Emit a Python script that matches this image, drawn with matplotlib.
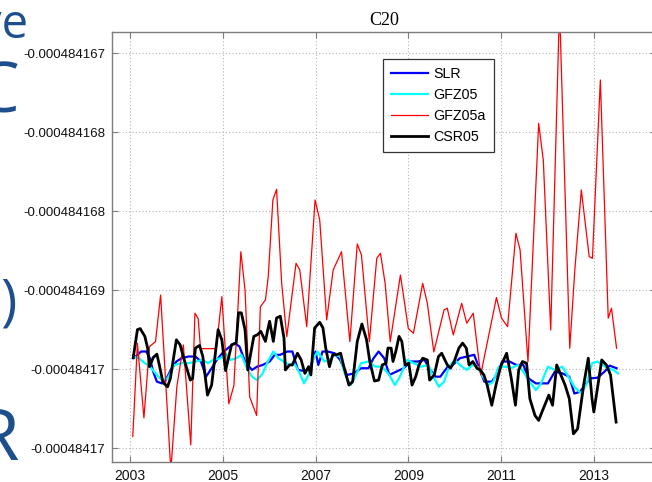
#!/usr/bin/env python3
"""
Plot the C20 coefficient time series (SLR vs. GRACE solutions).
"""

import matplotlib
matplotlib.use('Agg')  # Use non-interactive backend
import matplotlib.pyplot as plt
from matplotlib.ticker import FuncFormatter

OUTPUT_FILE = "out.png"

# Series are stored as offsets from C20_BASE, in units of C20_UNIT
C20_BASE = -4.84167e-4
C20_UNIT = 1e-10

SLR_T = [2003.07, 2003.12, 2003.24, 2003.35, 2003.43, 2003.50, 2003.58, 2003.69, 2003.77, 2003.88,
         2004.00, 2004.11, 2004.26, 2004.41, 2004.53, 2004.64, 2004.76, 2004.87, 2005.02, 2005.25,
         2005.36, 2005.48, 2005.63, 2005.74, 2005.86, 2006.01, 2006.12, 2006.24, 2006.39, 2006.50,
         2006.62, 2006.77, 2006.88, 2007.00, 2007.06, 2007.15, 2007.26, 2007.41, 2007.53, 2007.68,
         2007.83, 2007.98, 2008.14, 2008.25, 2008.36, 2008.48, 2008.59, 2008.74, 2008.90, 2009.05,
         2009.20, 2009.35, 2009.43, 2009.58, 2009.69, 2009.85, 2009.96, 2010.11, 2010.26, 2010.42,
         2010.53, 2010.64, 2010.80, 2010.95, 2011.02, 2011.18, 2011.33, 2011.48, 2011.59, 2011.75,
         2011.90, 2012.01, 2012.16, 2012.32, 2012.47, 2012.58, 2012.70, 2012.81, 2012.92, 2013.08,
         2013.23, 2013.34, 2013.49]
SLR_V = [-25.18, -25.05, -24.67, -24.67, -25.18, -26.20, -26.96, -27.09, -26.84, -26.07,
         -25.43, -25.18, -25.05, -25.05, -25.43, -26.58, -25.94, -25.31, -24.67, -24.03,
         -24.29, -25.43, -26.07, -25.82, -25.69, -25.43, -24.92, -24.92, -24.67, -24.67,
         -26.07, -26.15, -25.94, -24.67, -25.69, -24.67, -24.67, -24.80, -25.31, -26.45,
         -26.33, -25.94, -25.94, -25.18, -24.67, -25.18, -26.45, -26.20, -25.94, -25.43,
         -25.43, -25.31, -25.82, -26.58, -26.58, -25.82, -25.69, -25.18, -25.05, -24.92,
         -25.94, -26.96, -26.96, -26.20, -25.43, -25.43, -25.69, -25.69, -26.71, -27.09,
         -27.09, -27.09, -26.20, -26.33, -26.58, -27.86, -27.73, -27.22, -26.71, -26.66,
         -26.20, -25.74, -25.94]

GFZ05_T = [2003.07, 2003.20, 2003.27, 2003.43, 2003.58, 2003.69, 2003.81, 2003.96, 2004.11, 2004.26,
           2004.41, 2004.57, 2004.68, 2004.79, 2004.95, 2005.06, 2005.17, 2005.29, 2005.40, 2005.52,
           2005.63, 2005.74, 2005.86, 2005.97, 2006.09, 2006.20, 2006.31, 2006.43, 2006.54, 2006.66,
           2006.75, 2006.85, 2006.96, 2007.04, 2007.19, 2007.30, 2007.41, 2007.53, 2007.64, 2007.76,
           2007.87, 2007.98, 2008.14, 2008.29, 2008.44, 2008.59, 2008.71, 2008.82, 2008.97, 2009.12,
           2009.28, 2009.43, 2009.54, 2009.66, 2009.77, 2009.88, 2010.00, 2010.11, 2010.26, 2010.38,
           2010.49, 2010.61, 2010.72, 2010.83, 2010.95, 2011.10, 2011.21, 2011.37, 2011.48, 2011.59,
           2011.75, 2011.86, 2012.01, 2012.16, 2012.32, 2012.43, 2012.58, 2012.73, 2012.85, 2012.96,
           2013.08, 2013.19, 2013.30, 2013.42, 2013.52]
GFZ05_V = [-25.05, -25.18, -25.43, -25.82, -26.45, -26.84, -26.71, -25.69, -25.56, -25.56,
           -25.43, -25.31, -25.56, -25.31, -25.18, -24.80, -25.31, -25.18, -24.92, -25.94,
           -26.58, -26.84, -26.33, -25.43, -24.67, -25.18, -25.43, -25.69, -25.56, -26.33,
           -27.09, -26.45, -25.18, -24.67, -25.43, -25.31, -24.92, -25.05, -26.45, -27.22,
           -26.45, -25.56, -25.43, -25.82, -25.82, -26.45, -27.22, -26.58, -25.31, -25.56,
           -25.82, -25.69, -26.58, -27.35, -26.96, -25.82, -25.31, -25.69, -26.07, -25.69,
           -25.82, -26.58, -27.22, -26.96, -25.82, -25.82, -25.94, -25.69, -26.20, -26.84,
           -27.60, -27.09, -25.82, -26.07, -25.82, -26.45, -27.35, -27.86, -27.09, -25.56,
           -25.43, -25.69, -25.94, -26.07, -26.33]

GFZ05A_T = [2003.06, 2003.16, 2003.30, 2003.42, 2003.55, 2003.66, 2003.88, 2004.01, 2004.15, 2004.31,
            2004.40, 2004.47, 2004.52, 2004.86, 2004.98, 2005.13, 2005.24, 2005.39, 2005.48, 2005.58,
            2005.73, 2005.81, 2005.92, 2005.98, 2006.08, 2006.16, 2006.27, 2006.38, 2006.58, 2006.66,
            2006.81, 2006.99, 2007.09, 2007.24, 2007.38, 2007.56, 2007.74, 2007.90, 2007.99, 2008.16,
            2008.32, 2008.40, 2008.50, 2008.61, 2008.83, 2009.00, 2009.11, 2009.31, 2009.41, 2009.55,
            2009.77, 2009.84, 2009.97, 2010.15, 2010.26, 2010.40, 2010.56, 2010.90, 2011.01, 2011.14,
            2011.32, 2011.41, 2011.58, 2011.81, 2011.91, 2012.07, 2012.26, 2012.48, 2012.59, 2012.73,
            2012.90, 2012.97, 2013.14, 2013.31, 2013.38, 2013.49]
GFZ05A_V = [-31.13, -24.04, -29.71, -24.30, -23.92, -20.38, -33.70, -27.34, -24.17, -31.76,
            -21.76, -22.17, -24.45, -24.45, -20.50, -28.64, -27.25, -17.09, -20.00, -28.12,
            -29.53, -21.28, -20.75, -18.99, -13.16, -12.35, -19.49, -23.54, -17.97, -18.48,
            -22.78, -13.16, -14.68, -22.27, -18.48, -17.09, -23.92, -16.50, -17.34, -23.92,
            -17.59, -17.21, -19.49, -23.92, -18.86, -22.92, -23.28, -19.49, -21.01, -24.70,
            -21.51, -21.38, -23.41, -21.01, -22.52, -21.76, -26.45, -20.57, -22.14, -22.78,
            -15.69, -16.96, -25.44, -7.34, -10.12, -23.03, 1.50, -24.42, -18.48, -12.40,
            -17.47, -17.59, -4.05, -22.14, -21.38, -24.42]

CSR05_T = [2003.07, 2003.16, 2003.22, 2003.32, 2003.38, 2003.42, 2003.50, 2003.58, 2003.64, 2003.71,
           2003.81, 2003.87, 2004.00, 2004.08, 2004.18, 2004.30, 2004.35, 2004.41, 2004.50, 2004.57,
           2004.67, 2004.76, 2004.90, 2004.98, 2005.06, 2005.19, 2005.29, 2005.34, 2005.40, 2005.48,
           2005.54, 2005.61, 2005.67, 2005.75, 2005.82, 2005.92, 2005.97, 2006.01, 2006.09, 2006.16,
           2006.24, 2006.32, 2006.35, 2006.44, 2006.50, 2006.61, 2006.69, 2006.77, 2006.85, 2006.90,
           2006.98, 2007.09, 2007.16, 2007.22, 2007.30, 2007.37, 2007.45, 2007.54, 2007.61, 2007.72,
           2007.80, 2007.90, 2008.00, 2008.10, 2008.17, 2008.27, 2008.36, 2008.44, 2008.52, 2008.56,
           2008.63, 2008.67, 2008.73, 2008.80, 2008.86, 2008.93, 2009.01, 2009.08, 2009.16, 2009.23,
           2009.31, 2009.41, 2009.46, 2009.56, 2009.65, 2009.72, 2009.84, 2009.91, 2009.99, 2010.09,
           2010.17, 2010.25, 2010.31, 2010.39, 2010.48, 2010.55, 2010.63, 2010.70, 2010.80, 2010.89,
           2010.99, 2011.12, 2011.22, 2011.31, 2011.38, 2011.46, 2011.55, 2011.62, 2011.73, 2011.81,
           2011.91, 2012.03, 2012.11, 2012.20, 2012.29, 2012.38, 2012.47, 2012.56, 2012.65, 2012.78,
           2012.88, 2012.96, 2013.00, 2013.11, 2013.17, 2013.27, 2013.36, 2013.48]
CSR05_V = [-25.13, -23.01, -22.93, -23.52, -24.41, -25.82, -25.13, -24.87, -25.82, -27.02,
           -27.35, -26.71, -23.78, -24.16, -25.43, -26.84, -26.71, -24.41, -24.21, -25.05,
           -27.98, -27.22, -23.01, -23.78, -26.12, -24.16, -24.03, -21.73, -21.73, -23.01,
           -26.07, -24.67, -23.52, -23.39, -23.14, -23.90, -23.01, -22.37, -23.90, -22.12,
           -21.99, -23.65, -26.07, -25.69, -25.69, -24.80, -25.31, -26.33, -25.82, -26.45,
           -22.88, -22.45, -22.88, -24.41, -25.82, -24.92, -24.92, -24.80, -25.82, -27.22,
           -26.96, -23.90, -22.58, -23.78, -25.43, -26.91, -26.84, -25.69, -25.56, -24.41,
           -24.41, -25.43, -24.67, -23.52, -23.90, -25.69, -25.56, -27.22, -26.58, -25.69,
           -25.18, -25.31, -26.84, -26.45, -25.05, -24.80, -25.69, -25.94, -25.43, -24.41,
           -24.03, -24.41, -25.69, -25.43, -25.94, -26.07, -26.45, -27.22, -28.75, -27.22,
           -25.82, -24.80, -26.71, -28.75, -26.07, -25.43, -25.56, -28.24, -29.52, -29.90,
           -29.01, -27.98, -28.75, -25.69, -26.45, -27.22, -28.24, -30.92, -30.54, -27.22,
           -25.18, -28.24, -29.26, -26.71, -25.31, -25.69, -26.45, -30.03]

YEAR_TICKS = [2003, 2005, 2007, 2009, 2011, 2013]
C20_TICKS = [-2, -8, -14, -20, -26, -32]

# (label, colour, line width) in legend order
SERIES = [
    ("SLR", SLR_T, SLR_V, "#0000ff", 1.6),
    ("GFZ05", GFZ05_T, GFZ05_V, "#00ffff", 1.6),
    ("GFZ05a", GFZ05A_T, GFZ05A_V, "#ff0000", 0.9),
    ("CSR05", CSR05_T, CSR05_V, "#000000", 2.0),
]

# Slide text that sits to the left of the figure
SIDE_TEXT = ["ve", "C", ")", "R"]


def to_c20(values):
    """Convert stored offsets back to C20 values."""
    return [C20_BASE + v * C20_UNIT for v in values]


def c20_label(value, pos):
    """Format ticks with nine decimals, dropping trailing zeros."""
    return ("%.9f" % value).rstrip("0")


def main():
    plt.rcParams['font.family'] = ['Liberation Sans', 'DejaVu Sans']

    fig = plt.figure(figsize=(6.52, 4.82), dpi=100)
    ax = fig.add_axes([112 / 652, 20 / 482, 544 / 652, 430 / 482])

    for label, t, v, color, lw in SERIES:
        ax.plot(t, to_c20(v), color=color, linewidth=lw, label=label)

    ax.set_xlim(2002.612, 2014.34)
    ax.set_ylim(C20_BASE - 33.06 * C20_UNIT, C20_BASE - 0.405 * C20_UNIT)

    ax.set_xticks(YEAR_TICKS)
    ax.set_yticks(to_c20(C20_TICKS))
    ax.yaxis.set_major_formatter(FuncFormatter(c20_label))

    ax.grid(True, color="#b4b4b4", linestyle=(0, (1, 2)), linewidth=0.8)
    ax.set_axisbelow(True)
    for spine in ax.spines.values():
        spine.set_color("#7d7d7d")
        spine.set_linewidth(1.0)
    ax.tick_params(direction="in", length=4, color="#7d7d7d", top=True, right=True)
    ax.tick_params(axis="x", labelsize=10, pad=5, labelcolor="#111111")
    ax.tick_params(axis="y", labelsize=9.5, pad=5, labelcolor="#111111")

    ax.set_title("C20", fontsize=13, family=["Liberation Serif", "DejaVu Serif"], pad=5)

    leg = ax.legend(loc="upper left", bbox_to_anchor=(0.498, 0.937), borderaxespad=0,
                    fontsize=10.3, fancybox=False, framealpha=1, edgecolor="#333333",
                    handlelength=2.6, handletextpad=0.4, labelspacing=0.5, borderpad=0.55)
    leg.get_frame().set_linewidth(0.9)

    side_color = "#1d4f8c"
    fig.text(28 / 652, 1 - 38 / 482, SIDE_TEXT[0], ha="right", va="baseline",
             fontsize=34, color=side_color, family="Open Sans")
    fig.text(20 / 652, 1 - 112 / 482, SIDE_TEXT[1], ha="right", va="baseline",
             fontsize=50, color=side_color, family="Open Sans")
    fig.text(17 / 652, 1 - 320 / 482, SIDE_TEXT[2], ha="right", va="baseline",
             fontsize=40, color=side_color, family="Open Sans")
    fig.text(20 / 652, 1 - 460 / 482, SIDE_TEXT[3], ha="right", va="baseline",
             fontsize=52, color=side_color, family="Open Sans")

    fig.savefig(OUTPUT_FILE, dpi=100)
    plt.close(fig)


if __name__ == "__main__":
    main()
